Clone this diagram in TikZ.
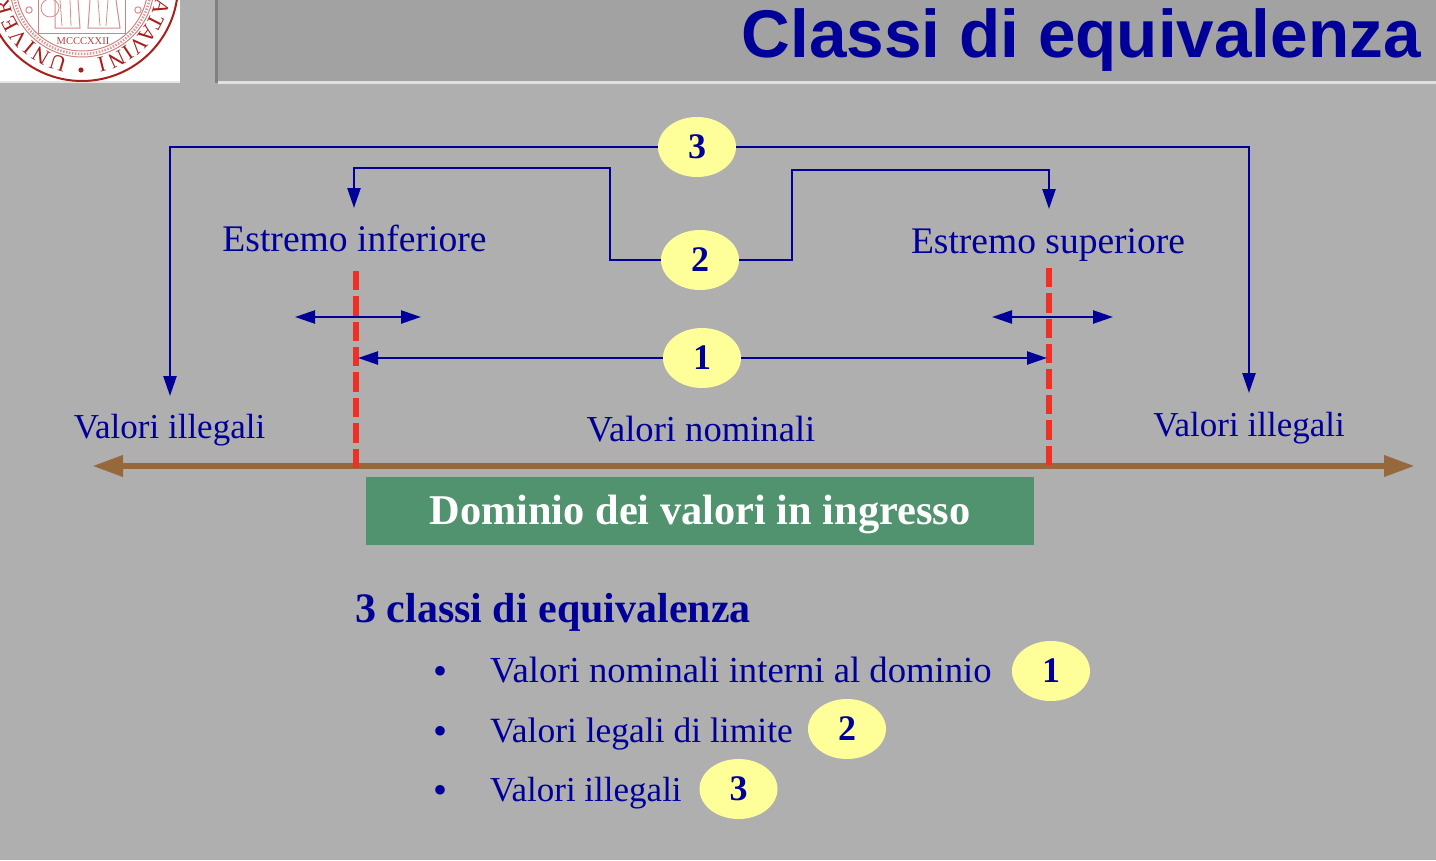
\documentclass[tikz,border=0pt]{standalone}
\usepackage{fontspec}
\setmainfont{Liberation Serif}
\newfontfamily\titlefont{Liberation Sans}
\usetikzlibrary{shapes.geometric,arrows.meta}
\definecolor{bgc}{HTML}{AFAFAF}
\definecolor{bandc}{HTML}{A2A2A2}
\definecolor{edgec}{HTML}{808080}
\definecolor{navyc}{HTML}{000099}
\definecolor{yellowc}{HTML}{FFFF99}
\definecolor{greenc}{HTML}{52936F}
\definecolor{brownc}{HTML}{96693C}
\definecolor{redc}{HTML}{EE3124}
\definecolor{sealc}{HTML}{A8201C}
\newcommand{\fsz}[1]{\fontsize{#1}{#1}\selectfont}
\newcommand{\dig}[1]{\raisebox{-1pt}{#1}}
\tikzset{
  x=1pt,y=-1pt,
  badge/.style={ellipse,fill=yellowc,minimum width=78pt,minimum height=60pt,inner sep=0pt,text=navyc,font=\fsz{36}\bfseries},
  lbl/.style={anchor=base,inner sep=0pt,text=navyc},
  lblleft/.style={lbl,anchor=base west},
  conn/.style={draw=navyc,line width=2.4pt,line join=miter},
  arr/.style={conn,-{Stealth[length=20pt,width=13pt,inset=0pt]}},
  dbl/.style={conn,{Stealth[length=20pt,width=13pt,inset=0pt]}-{Stealth[length=20pt,width=13pt,inset=0pt]}},
  limit/.style={draw=redc,line width=6pt,dash pattern=on 19.4pt off 6pt},
  axisline/.style={draw=brownc,line width=6.5pt,{Stealth[length=31pt,width=20pt,inset=0pt]}-{Stealth[length=31pt,width=20pt,inset=0pt]}},
  seallet/.style={text=sealc,inner sep=0pt,font=\fsz{22}},
}
\begin{document}
\begin{tikzpicture}
\path[use as bounding box,fill=bgc] (0,0) rectangle (1436,860);
% header
\fill[bandc] (217,0) rectangle (1436,81);
\fill[edgec] (215,0) rectangle (218,83);
\fill[white!88!black] (218,81) rectangle (1436,83.5);
\node[anchor=base east,inner sep=0pt,text=navyc,font=\fsz{67.5}\titlefont\bfseries] (title) at (1421,57) {Classi di equivalenza};
% seal
\begin{scope}
\clip (0,0) rectangle (180,83);
\fill[white] (0,0) rectangle (180,81);
\fill[white!90!black] (0,81) rectangle (180,83);
\draw[sealc,line width=2pt] (82,-15) circle[radius=96];
\draw[sealc!55,line width=1pt] (82,-15) circle[radius=72];
\draw[sealc!45,line width=2.5pt,dash pattern=on 1.5pt off 1.5pt] (82,-15) circle[radius=69];
\draw[sealc!55,line width=1pt] (82,-15) circle[radius=66];
\fill[sealc] (81,70) circle[radius=2.6];
\draw[sealc!50,line width=1pt] (29,10) circle[radius=3.2] (138,10) circle[radius=3.2];
\draw[sealc!55,line width=.8pt] (38,0) -- (38,33) -- (125,33) -- (125,0);
\draw[sealc!50,line width=1pt] (55,0) -- (55,28) -- (80,28) -- (78,0) (90,0) -- (88,28) -- (120,28) -- (116,0);
\draw[sealc!50,line width=.8pt] (50,8) circle[radius=9] (98,0) -- (100,26) (108,0) -- (106,26) (60,0) -- (62,26) (70,0) -- (71,26);
\node[text=sealc!85,inner sep=0pt,font=\fsz{10.5}] (year) at (83,41) {MCCCXXII};
\foreach \a/\l in {107/U,120/N,130/I,140/V,152/E,164/R}{
  \node[seallet,rotate=-\a-90] at ({82+82*cos(\a)},{-15+82*sin(\a)}) {\l};}
\foreach \a/\l in {76/I,65/N,56/I,47/V,37/A,27/T,16/A}{
  \node[seallet,rotate=-\a-90] at ({82+82*cos(\a)},{-15+82*sin(\a)}) {\l};}
\end{scope}
% badges
\node[badge] (n3) at (697,147) {\dig{3}};
\node[badge] (n2) at (700,260) {\dig{2}};
\node[badge] (n1) at (702,358) {\dig{1}};
\node[badge] (l1) at (1051,671) {\dig{1}};
\node[badge] (l2) at (847,729) {\dig{2}};
\node[badge] (l3) at (738.5,789) {\dig{3}};
% free ends
\coordinate (a3l) at (170,396);
\coordinate (a3r) at (1249,393);
\coordinate (a2l) at (354,208);
\coordinate (a2r) at (1049,209);
\coordinate (a1l) at (358,358);
\coordinate (a1r) at (1047,358);
\coordinate (ll1) at (295,317);
\coordinate (ll2) at (421,317);
\coordinate (lr1) at (992,317);
\coordinate (lr2) at (1113,317);
\coordinate (axl) at (92,466);
\coordinate (axr) at (1415,466);
\coordinate (rl1) at (356,271);
\coordinate (rl2) at (356,468);
\coordinate (rr1) at (1049,268);
\coordinate (rr2) at (1049,465);
% connectors
\draw[arr] (n3.west) -- (170,147) -- (a3l);
\draw[arr] (n3.east) -- (1249,147) -- (a3r);
\draw[arr] (n2.west) -- (610,260) -- (610,168) -- (354,168) -- (a2l);
\draw[arr] (n2.east) -- (792,260) -- (792,170) -- (1049,170) -- (a2r);
\draw[dbl] (ll1) -- (ll2);
\draw[axisline] (axl) -- (axr);
\draw[limit] (rl2) -- (rl1);
\draw[limit] (rr2) -- (rr1);
\draw[dbl] (lr1) -- (lr2);
\draw[arr] (n1.west) -- (a1l);
\draw[arr] (n1.east) -- (a1r);
% labels
\node[lbl,font=\fsz{37.6}] (e1) at (354.5,251) {Estremo inferiore};
\node[lbl,font=\fsz{37.5}] (e2) at (1048,253) {Estremo superiore};
\node[lbl,font=\fsz{35}] (v1) at (169.5,438.5) {Valori illegali};
\node[lbl,font=\fsz{36.6}] (v2) at (701,441.5) {Valori nominali};
\node[lbl,font=\fsz{35}] (v3) at (1249,436.5) {Valori illegali};
% domain
\fill[greenc] (366,477) rectangle (1034,545);
\node[lbl,text=white,font=\fsz{42.4}\bfseries] (dom) at (700,524.5) {Dominio dei valori in ingresso};
% list
\node[lblleft,font=\fsz{42}\bfseries] (h) at (355,622) {3 classi di equivalenza};
\node[lbl,font=\fsz{40}] (b1) at (440,684) {•};
\node[lbl,font=\fsz{40}] (b2) at (440,744) {•};
\node[lbl,font=\fsz{40}] (b3) at (440,803) {•};
\node[lblleft,font=\fsz{36.7}] (t1) at (490,682.5) {Valori nominali interni al dominio};
\node[lblleft,font=\fsz{35.5}] (t2) at (490,742.5) {Valori legali di limite};
\node[lblleft,font=\fsz{35}] (t3) at (490,801.5) {Valori illegali};
\end{tikzpicture}
\end{document}
